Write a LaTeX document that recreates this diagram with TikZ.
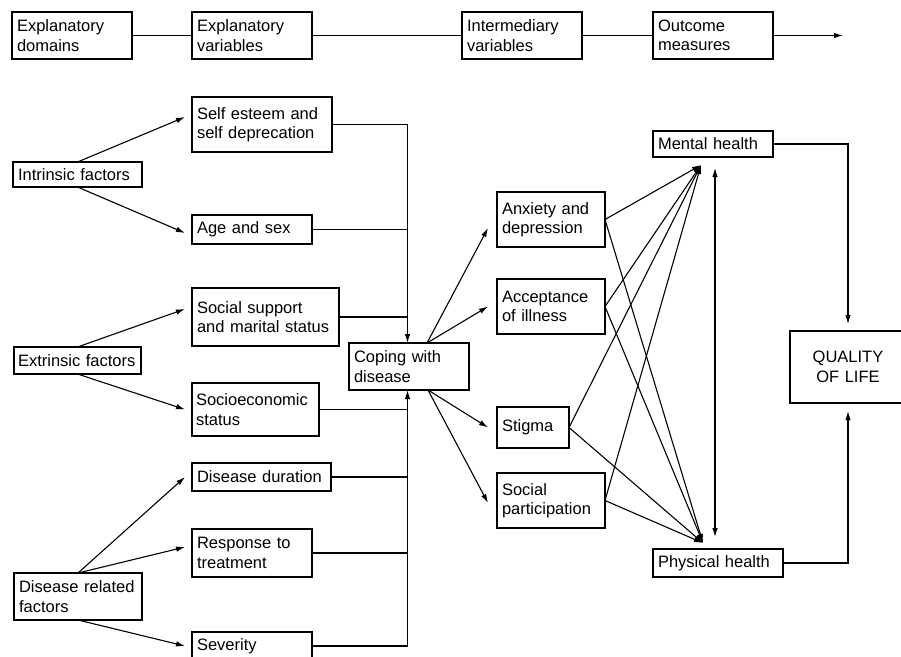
\documentclass[tikz,border=0pt]{standalone}
\usepackage{fontspec}
\setmainfont{Liberation Sans}
\usetikzlibrary{arrows.meta,calc}
\begin{document}
\begin{tikzpicture}[x=1pt,y=-1pt,
  box/.style={draw, line width=1.1pt, anchor=north west, align=left, inner xsep=5pt, inner ysep=0pt, outer sep=0pt,
    font=\fontsize{16.5}{19.5}\selectfont},
  cbox/.style={box, align=center},
  ln/.style={line width=1.1pt},
  arr/.style={line width=1.1pt, -{Latex[length=9pt,width=5.5pt]}},
  darr/.style={line width=1.1pt, {Latex[length=9pt,width=5.5pt]}-{Latex[length=9pt,width=5.5pt]}},
]
\useasboundingbox (0,0) rectangle (901,656);

% top row
\node[box, text width=110pt, minimum height=47pt] (ed) at (12,12) {Explanatory\\domains};
\node[box, text width=110pt, minimum height=47pt] (ev) at (192,12) {Explanatory\\variables};
\node[box, text width=110pt, minimum height=47pt] (iv) at (462,12) {Intermediary\\variables};
\node[box, text width=110pt, minimum height=47pt] (om) at (653,12) {Outcome\\measures};
\coordinate (endarr) at (843,35.5);

% left domains
\node[box, text width=119pt, minimum height=25pt] (intr) at (13,162) {Intrinsic factors};
\node[box, inner xsep=4pt, text width=119pt, minimum height=27pt] (extr) at (14,347) {Extrinsic factors};
\node[box, text width=118pt, minimum height=47pt] (dis) at (14,573) {Disease related\\factors};

% explanatory variables
\node[box, text width=130pt, minimum height=55pt] (self) at (192,97) {Self esteem and\\self deprecation};
\node[box, text width=110pt, minimum height=29pt] (age) at (192,215) {Age and sex};
\node[box, text width=137pt, minimum height=58pt] (soc) at (192,288) {Social support\\and marital status};
\node[box, inner xsep=4pt, text width=119pt, minimum height=53pt] (ses) at (192,383) {Socioeconomic\\status};
\node[box, text width=129pt, minimum height=28pt] (dd) at (192,463) {Disease duration};
\node[box, text width=110pt, minimum height=48pt] (rt) at (192,529) {Response to\\treatment};
\node[box, text width=110pt, minimum height=28pt] (sev) at (192,632) {Severity};

% coping
\node[box, text width=110pt, minimum height=47pt] (cope) at (349,343) {Coping with\\disease};

% intermediary
\node[box, text width=98pt, minimum height=55pt] (anx) at (497,192) {Anxiety and\\depression};
\node[box, text width=98pt, minimum height=55pt] (acc) at (497,279) {Acceptance\\of illness};
\node[box, text width=62pt, minimum height=41pt] (stig) at (497,407) {Stigma};
\node[box, text width=98pt, minimum height=55pt] (sp) at (497,473) {Social\\participation};

% outcomes
\node[box, text width=110pt, minimum height=26pt] (mh) at (653,131) {Mental health};
\node[box, text width=120pt, minimum height=28pt] (ph) at (653,549) {Physical health};
\node[cbox, text width=106pt, minimum height=72pt] (qol) at (790,331) {QUALITY\\OF LIFE};

% top row connectors
\draw[ln] (ed) -- (ev);
\draw[ln] (ev) -- (iv);
\draw[ln] (iv) -- (om);
\draw[arr] (om.east) -- (endarr);

% domains to variables
\draw[arr] (intr.north) -- ([xshift=-7pt,yshift=7.5pt]self.west);
\draw[arr] (intr.south) -- ([xshift=-7pt,yshift=-3.5pt]age.west);
\draw[arr] (extr.north) -- ([xshift=-7pt,yshift=8pt]soc.west);
\draw[arr] (extr.south) -- ([xshift=-7pt]ses.west);
\draw[arr] (dis.north) -- ([xshift=-7pt]dd.west);
\draw[arr] (dis.north) -- ([xshift=-7pt,yshift=6pt]rt.west);
\draw[arr] (dis.south) -- ([xshift=-7pt]sev.west);

% bus into coping
\coordinate (busT) at ([xshift=-1.5pt]cope.north);
\coordinate (busB) at ([xshift=-1.5pt]cope.south);
\draw[arr] (self.east) -| (busT);
\draw[ln] (age.east) -- (age.east -| busT);
\draw[ln] (soc.east) -- (soc.east -| busT);
\draw[arr] (sev.east) -| (busB);
\draw[ln] (ses.east) -- (ses.east -| busB);
\draw[ln] (dd.east) -- (dd.east -| busB);
\draw[ln] (rt.east) -- (rt.east -| busB);

% coping to intermediary
\coordinate (copeTR) at ([xshift=-42pt]cope.north east);
\coordinate (copeBR) at ([xshift=-41pt]cope.south east);
\draw[arr] (copeTR) -- ([xshift=-9pt,yshift=-8.5pt]anx.west);
\draw[arr] (copeTR) -- ([xshift=-9pt]acc.west);
\draw[arr] (copeBR) -- ([xshift=-9pt]stig.west);
\draw[arr] (copeBR) -- ([xshift=-9pt,yshift=-2.5pt]sp.west);

% intermediary to outcomes
\coordinate (mhIn) at ([xshift=-12pt,yshift=-8pt]mh.south);
\coordinate (phIn) at ([xshift=-15pt,yshift=6pt]ph.north);
\foreach \n in {anx,acc,stig,sp} {
  \draw[arr] (\n.east) -- (mhIn);
  \draw[arr] (\n.east) -- (phIn);
}
\coordinate (dT) at ([xshift=2pt,yshift=-11pt]mh.south);
\coordinate (dB) at ([xshift=-3pt,yshift=12pt]ph.north);
\draw[darr] (dT) -- (dB);

% outcomes to QoL
\draw[arr, shorten >=7pt] (mh.east) -| (qol.north);
\draw[arr, shorten >=8pt] (ph.east) -| (qol.south);
\end{tikzpicture}
\end{document}
